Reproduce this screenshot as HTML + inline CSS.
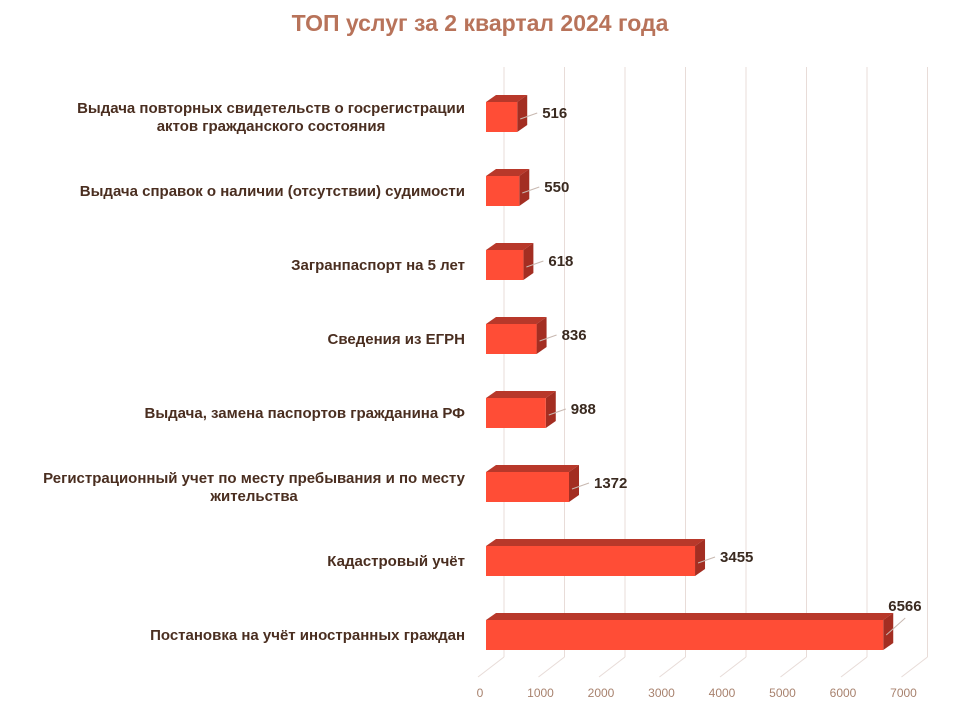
<!DOCTYPE html>
<html><head><meta charset="utf-8"><style>
body{margin:0;background:#fff;width:960px;height:720px;overflow:hidden;position:relative;font-family:"Liberation Sans",Arial,sans-serif}
.lbl{position:absolute;right:495px;text-align:center;font-weight:bold;font-size:15px;color:#4a2e20;line-height:18px;white-space:nowrap}
#title{position:absolute;left:0;width:960px;top:10px;text-align:center;font-weight:bold;font-size:23px;color:#b8735a}
</style></head><body>
<div id="title">ТОП услуг за 2 квартал 2024 года</div>
<div id="labels"></div>
<svg id="chart" width="960" height="720" style="position:absolute;left:0;top:0"></svg>
<script>
const categories=["Выдача повторных свидетельств о госрегистрации<br>актов гражданского состояния","Выдача справок о наличии (отсутствии) судимости ","Загранпаспорт на 5 лет","Сведения из ЕГРН","Выдача, замена паспортов гражданина РФ","Регистрационный учет по месту пребывания и по месту<br>жительства","Кадастровый учёт","Постановка на учёт иностранных граждан"];
const values=[516,550,618,836,988,1372,3455,6566];
const ticks=[0,1000,2000,3000,4000,5000,6000,7000];
const NS="http://www.w3.org/2000/svg";
const svg=document.getElementById('chart');
const x0=486,scale=60.5/1000,dx=10,dy=-7,bh=30;
const bx=504,by=657;
function X(v){return x0+v*scale;}
function rowY(i){return 117+i*74;}
function mk(t,a){const e=document.createElementNS(NS,t);for(const k in a)e.setAttribute(k,a[k]);svg.appendChild(e);return e;}
// grid
ticks.forEach((t,i)=>{
 const gx=bx+t*scale;
 const g=mk('line',{x1:gx,y1:67,x2:gx,y2:by,stroke:'#e8dcd8','stroke-width':1});
 
 
 const f=mk('line',{x1:gx,y1:by,x2:gx-26,y2:by+20,stroke:'#e8dcd8','stroke-width':1});
 
 
 const tx=mk('text',{x:gx-24,y:697,'text-anchor':'middle','font-size':12,fill:'#a8826e','font-family':'Liberation Sans, sans-serif'});
 tx.textContent=t;
 
 
});
const lab=document.getElementById('labels');
values.forEach((v,i)=>{
 const cy=rowY(i),top=cy-bh/2,xe=X(v);
 const gr=document.createElementNS(NS,'g');svg.appendChild(gr);
 
 
 const p=(t,a)=>{const e=document.createElementNS(NS,t);for(const k in a)e.setAttribute(k,a[k]);gr.appendChild(e);return e;};
 p('polygon',{points:`${x0},${top} ${x0+dx},${top+dy} ${xe+dx},${top+dy} ${xe},${top}`,fill:'#b8382a'});
 p('polygon',{points:`${xe},${top} ${xe+dx},${top+dy} ${xe+dx},${top+bh+dy} ${xe},${top+bh}`,fill:'#a32e22'});
 p('rect',{x:x0,y:top,width:xe-x0,height:bh,fill:'#ff4d36'});
 const big=i===values.length-1;
 const lx=big?xe+22:xe+20, ly=big?top-10:cy-4;
 p('line',{x1:xe+3,y1:cy+(big?0:2),x2:lx,y2:big?ly+8:ly,stroke:'#c8b8b0','stroke-width':1});
 const t=p('text',{x:big?xe+5:lx+5,y:big?ly+1:ly+5,'font-size':15,'font-weight':'bold',fill:'#3a2a20','font-family':'Liberation Sans, sans-serif'});
 t.textContent=v;
 
 
 const d=document.createElement('div');d.className='lbl';
 
 
 d.innerHTML=categories[i];lab.appendChild(d);
 const lines=categories[i].split('<br>').length;
 d.style.top=(cy-9*lines+1)+'px';
});
</script>
</body></html>
